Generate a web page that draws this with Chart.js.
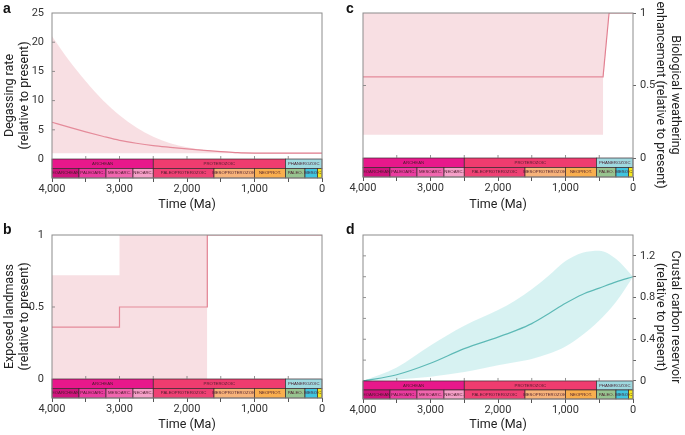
<!DOCTYPE html>
<html>
<head>
<meta charset="utf-8">
<script src="https://cdn.jsdelivr.net/npm/chart.js@4.4.1/dist/chart.umd.min.js"></script>
<style>
  body { margin: 0; background: #fff; width: 685px; height: 435px; position: relative; overflow: hidden; }
  .panel { position: absolute; }
  .tag { position: absolute; font: bold 14px 'Liberation Sans', Arial, sans-serif; color: #111; }
</style>
</head>
<body>
<div class="panel" style="left:0;top:0;width:340px;height:215px"><canvas id="chartA"></canvas></div>
<div class="panel" style="left:340px;top:0;width:345px;height:215px"><canvas id="chartC"></canvas></div>
<div class="panel" style="left:0;top:215px;width:340px;height:220px"><canvas id="chartB"></canvas></div>
<div class="panel" style="left:340px;top:215px;width:345px;height:220px"><canvas id="chartD"></canvas></div>
<div class="tag" style="left:3px;top:0px">a</div>
<div class="tag" style="left:346px;top:0px">c</div>
<div class="tag" style="left:3px;top:221px">b</div>
<div class="tag" style="left:346px;top:221px">d</div>
<script>
// geologic time scale
const eonNames = ['ARCHEAN', 'PROTEROZOIC', 'PHANEROZOIC'];
const eonBounds = [4000, 2500, 541, 0];
const eonColors = ['#e8188b', '#ef3c6f', '#9fd9df'];
const eraNames = ['EOARCHEAN', 'PALEOARC.', 'MESOARC.', 'NEOARC.', 'PALEOPROTEROZOIC', 'MESOPROTEROZOIC', 'NEOPROT.', 'PALEO.', 'MESO.', 'C'];
const eraBounds = [4000, 3600, 3200, 2800, 2500, 1600, 1000, 541, 252, 66, 0];
const eraColors = ['#d0147d', '#ea3c9f', '#f066ae', '#f5a0c8', '#ef4174', '#f7b37a', '#f9ae4e', '#97c38f', '#40c4de', '#f3e81e'];

const xTicks = [4000, 3500, 3000, 2500, 2000, 1500, 1000, 500, 0];

// a: degassing rate
const timeA = [4000, 3750, 3500, 3250, 3000, 2750, 2500, 2250, 2000, 1750, 1500, 1250, 1000, 750, 0];
const degassHigh = [21, 16.9, 13.3, 10.1, 7.5, 5.4, 3.8, 2.7, 2.0, 1.55, 1.28, 1.1, 1.02, 1.0, 1.0];
const degassLow = [1, 1, 1, 1, 1, 1, 1, 1, 1, 1, 1, 1, 1, 1, 1];
const degassMid = [6.3, 5.45, 4.65, 3.9, 3.2, 2.7, 2.3, 2.0, 1.72, 1.48, 1.28, 1.1, 1.02, 1.0, 1.0];
const ticksA = [0, 5, 10, 15, 20, 25];

// b: exposed landmass
const timeBandB = [4000, 3000, 3000, 1700];
const landHigh = [0.72, 0.72, 1, 1];
const timeB = [4000, 3000, 3000, 1700, 1700, 0];
const landMid = [0.36, 0.36, 0.5, 0.5, 1, 1];
const ticksB = [0, 0.5, 1];

// c: biological weathering enhancement
const timeC = [4000, 444, 444, 355, 0];
const bioHigh = [1, 1, 1, 1, 1];
const bioLow = [0.16, 0.16, 0.56, 1, 1];
const bioMid = [0.56, 0.56, 0.56, 1, 1];
const ticksC = [0, 0.5, 1];

// d: crustal carbon reservoir
const timeD = [4000, 3500, 3000, 2500, 2000, 1750, 1500, 1250, 1000, 750, 500, 250, 0];
const carbonHigh = [0.0, 0.13, 0.34, 0.53, 0.68, 0.77, 0.88, 1.01, 1.15, 1.23, 1.25, 1.17, 1.0];
const carbonLow = [0.0, 0.015, 0.04, 0.085, 0.15, 0.18, 0.21, 0.26, 0.33, 0.44, 0.58, 0.76, 1.0];
const carbonMid = [0.0, 0.06, 0.17, 0.31, 0.42, 0.48, 0.55, 0.645, 0.745, 0.83, 0.89, 0.95, 1.0];
const ticksD = [0, 0.2, 0.4, 0.6, 0.8, 1.0, 1.2];

const FONT = "Roboto, 'Liberation Sans', sans-serif";
const pink = '#e0788a';
const pinkFill = 'rgba(236, 170, 182, 0.38)';
const teal = '#2e9e98';
const tealFill = 'rgba(160, 224, 224, 0.42)';

const pts = (xs, ys) => xs.map((x, i) => ({ x: x, y: ys[i] }));

// draws the frame, inner ticks and the geologic time bar under y = 0
const geoBar = {
    id: 'geoBar',
    afterDatasetsDraw(chart) {
        const ctx = chart.ctx;
        const area = chart.chartArea;
        const xs = chart.scales.x;
        const ys = chart.scales.y;
        const y0 = ys.getPixelForValue(0);
        const yb = area.bottom;
        const ym = (y0 + yb) / 2;
        ctx.save();
        ctx.lineWidth = 0.7;
        ctx.strokeStyle = '#3a2a30';
        ctx.textAlign = 'center';
        ctx.textBaseline = 'middle';
        ctx.font = "4.3px 'Liberation Sans', Arial, sans-serif";
        eonNames.forEach((name, i) => {
            const x1 = xs.getPixelForValue(eonBounds[i]);
            const x2 = xs.getPixelForValue(eonBounds[i + 1]);
            ctx.fillStyle = eonColors[i];
            ctx.fillRect(x1, y0, x2 - x1, ym - y0);
            ctx.strokeRect(x1, y0, x2 - x1, ym - y0);
            ctx.fillStyle = '#4a1a2a';
            ctx.fillText(name, (x1 + x2) / 2, (y0 + ym) / 2);
        });
        eraNames.forEach((name, i) => {
            const x1 = xs.getPixelForValue(eraBounds[i]);
            const x2 = xs.getPixelForValue(eraBounds[i + 1]);
            ctx.fillStyle = eraColors[i];
            ctx.fillRect(x1, ym, x2 - x1, yb - ym);
            ctx.strokeRect(x1, ym, x2 - x1, yb - ym);
            ctx.fillStyle = '#4a1a2a';
            ctx.fillText(name, (x1 + x2) / 2, (ym + yb) / 2);
        });
        // small ticks above the bar and inside the left edge
        ctx.strokeStyle = '#777';
        ctx.lineWidth = 0.8;
        xTicks.slice(1, -1).forEach(v => {
            const px = xs.getPixelForValue(v);
            ctx.beginPath();
            ctx.moveTo(px, y0);
            ctx.lineTo(px, y0 - 3);
            ctx.stroke();
        });
        ys.ticks.forEach(t => {
            if (t.value <= 0 || t.value >= ys.max) return;
            const py = ys.getPixelForValue(t.value);
            ctx.beginPath();
            ctx.moveTo(area.left, py);
            ctx.lineTo(area.left + 3, py);
            ctx.stroke();
        });
        ctx.strokeStyle = '#8c8c8c';
        ctx.lineWidth = 1;
        ctx.strokeRect(area.left, area.top, area.right - area.left, area.bottom - area.top);
        ctx.restore();
    }
};

function xAxis(height) {
    return {
        type: 'linear', reverse: true, min: 0, max: 4000,
        afterBuildTicks: s => { s.ticks = xTicks.map(v => ({ value: v })); },
        afterFit: s => { s.height = height; },
        ticks: {
            autoSkip: false, maxRotation: 0, padding: 1, color: '#333',
            font: { family: FONT, size: 11 },
            callback: v => (v % 1000 === 0 ? v.toLocaleString('en-US') : '')
        },
        grid: { drawOnChartArea: false, tickLength: 4, color: '#555' },
        border: { display: false },
        title: { display: true, text: 'Time (Ma)', color: '#222', font: { family: FONT, size: 12.5 }, padding: { top: 2, bottom: 3 } }
    };
}

function yAxis(pos, min, max, tickVals, labelVals, title, width) {
    return {
        position: pos, min: min, max: max,
        afterBuildTicks: s => { s.ticks = tickVals.map(v => ({ value: v })); },
        afterFit: s => { s.width = width; },
        ticks: {
            padding: pos === 'right' ? 4 : 5, color: '#333',
            font: { family: FONT, size: 11 },
            callback: v => (labelVals.includes(v) ? String(v) : '')
        },
        grid: { display: pos === 'right', drawOnChartArea: false, tickLength: 3, color: '#666' },
        border: { display: false },
        title: { display: true, text: title, color: '#222', font: { family: FONT, size: 12.5 }, padding: 2 }
    };
}

function lineSet(data, color, width, fill, bg, smooth) {
    const ds = {
        data: data, borderColor: color, borderWidth: width, pointRadius: 0,
        fill: fill, backgroundColor: bg, tension: 0
    };
    if (smooth) ds.cubicInterpolationMode = 'monotone';
    return ds;
}

function makeChart(id, datasets, scales, padding) {
    return new Chart(document.getElementById(id).getContext('2d'), {
        type: 'line',
        data: { datasets: datasets },
        options: {
            responsive: true,
            maintainAspectRatio: false,
            animation: false,
            layout: { padding: padding },
            plugins: { legend: { display: false }, tooltip: { enabled: false } },
            scales: scales
        },
        plugins: [geoBar]
    });
}

const clear = 'rgba(0,0,0,0)';

// a
makeChart('chartA', [
    lineSet(pts(timeA, degassHigh), clear, 0, '+1', pinkFill, true),
    lineSet(pts(timeA, degassLow), clear, 0, false, pinkFill, false),
    lineSet(pts(timeA, degassMid), pink, 1.2, false, pink, true)
], {
    x: xAxis(37),
    y: yAxis('left', -3.25, 25, ticksA, ticksA, ['Degassing rate', '(relative to present)'], 52)
}, { top: 13, right: 18, left: 0, bottom: 0 });

// b
makeChart('chartB', [
    lineSet(pts(timeBandB, landHigh), clear, 0, 'origin', pinkFill, false),
    lineSet(pts(timeB, landMid), pink, 1.2, false, pink, false)
], {
    x: xAxis(37),
    y: yAxis('left', -0.132, 1, ticksB, ticksB, ['Exposed landmass', '(relative to present)'], 52)
}, { top: 20, right: 18, left: 0, bottom: 0 });

// c
makeChart('chartC', [
    lineSet(pts(timeC, bioHigh), clear, 0, '+1', pinkFill, false),
    lineSet(pts(timeC, bioLow), clear, 0, false, pinkFill, false),
    lineSet(pts(timeC, bioMid), pink, 1.2, false, pink, false)
], {
    x: xAxis(38),
    y: yAxis('right', -0.131, 1, ticksC, ticksC, ['Biological weathering', 'enhancement (relative to present)'], 52)
}, { top: 13, right: 0, left: 23, bottom: 0 });

// d
makeChart('chartD', [
    lineSet(pts(timeD, carbonHigh), clear, 0, '+1', tealFill, true),
    lineSet(pts(timeD, carbonLow), clear, 0, false, tealFill, true),
    lineSet(pts(timeD, carbonMid), teal, 1.2, false, teal, true)
], {
    x: xAxis(36),
    y: yAxis('right', -0.173, 1.4, ticksD, [0, 0.4, 0.8, 1.2], ['Crustal carbon reservoir', '(relative to present)'], 52)
}, { top: 20, right: 0, left: 23, bottom: 0 });
</script>
</body>
</html>
